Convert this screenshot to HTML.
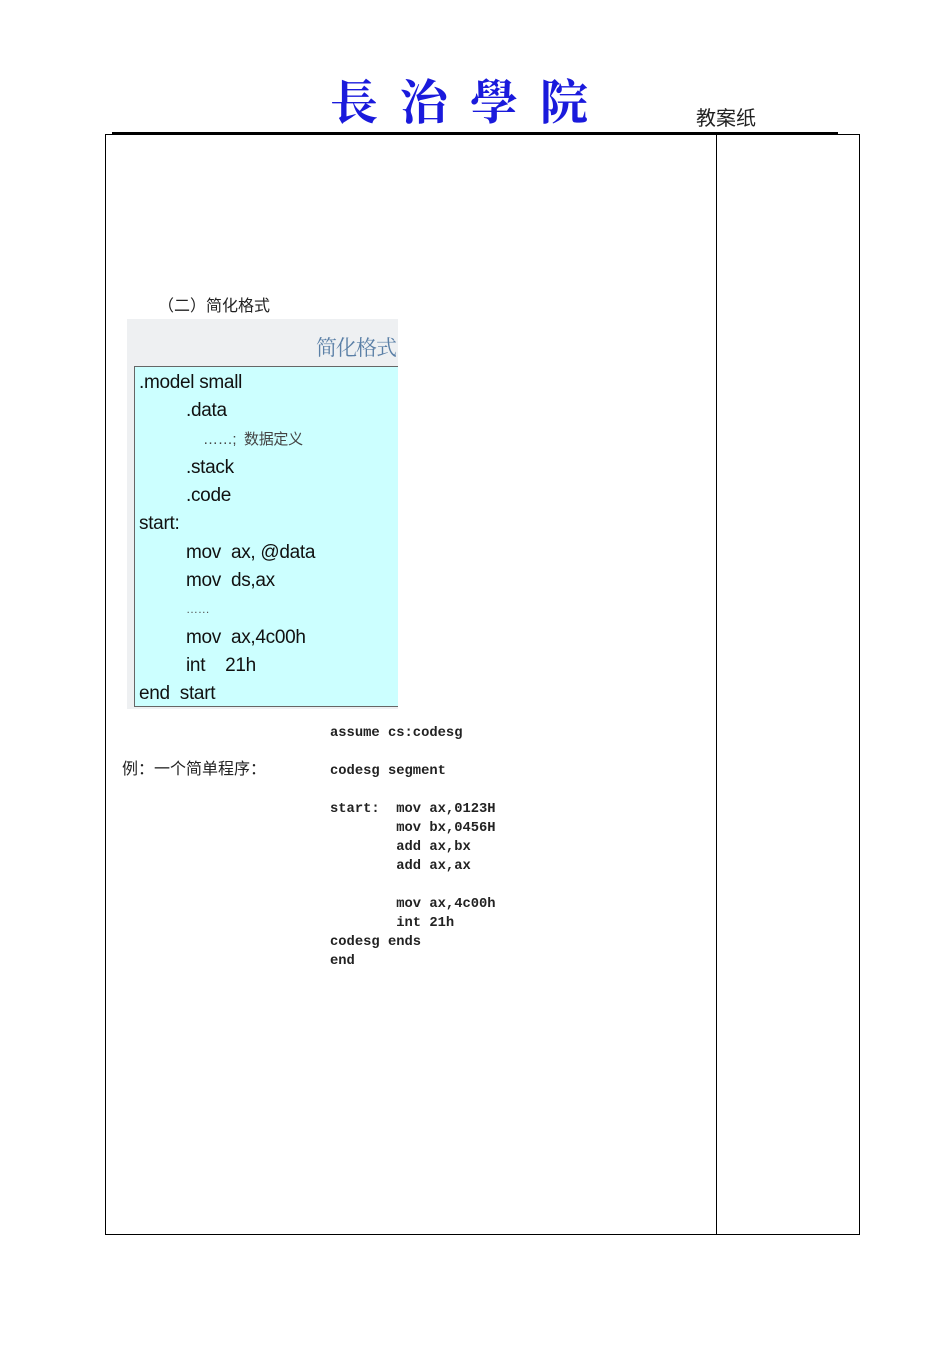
<!DOCTYPE html>
<html><head><meta charset="utf-8"><style>
body{margin:0;width:950px;height:1345px;background:#fff;position:relative;font-family:"Liberation Sans","Noto Sans CJK SC",sans-serif;overflow:hidden}
.a{position:absolute;white-space:pre}
.m{font-family:"Liberation Mono","DejaVu Sans Mono",monospace;font-size:13.8px;font-weight:bold;color:#222;line-height:19px}
.bx{white-space:normal}
.bx div{height:28.3px;white-space:pre}
.i{padding-left:47px}
</style></head><body>
<div class="a" style="left:330px;top:64px;font-size:48px;color:#1a1adc;font-weight:bold;font-family:'Noto Serif CJK SC',serif;letter-spacing:22px">長治學院</div>
<div class="a" style="left:696px;top:102px;font-size:20px;color:#222">教案纸</div>
<div class="a" style="left:112px;top:132px;width:726px;height:2px;background:#000"></div>
<div class="a" style="left:105px;top:134px;width:755px;height:1101px;border:1px solid #000;box-sizing:border-box"></div>
<div class="a" style="left:716px;top:134px;width:1px;height:1101px;background:#000"></div>
<div class="a" style="left:158px;top:292px;font-size:16px;color:#222">（二）简化格式</div>
<div class="a" style="left:127px;top:319px;width:271px;height:390px;background:#eef0f2"></div>
<div class="a" style="left:316px;top:332px;font-size:21px;letter-spacing:-1px;color:#5a7fa6;font-family:'Noto Serif CJK SC',serif">简化格式</div>
<div class="a" style="left:134px;top:366px;width:264px;height:341px;background:#ccffff;border:1px solid #666;border-right:none;box-sizing:border-box"></div>
<div class="a bx" style="left:139px;top:369px;font-size:19px;line-height:28.3px;color:#111;letter-spacing:-0.3px"><div>.model small</div><div class="i">.data</div><div style="padding-left:64px;font-size:15px;color:#444">……;  数据定义</div><div class="i">.stack</div><div class="i">.code</div><div>start:</div><div class="i">mov  ax, @data</div><div class="i">mov  ds,ax</div><div class="i" style="font-size:12px;color:#555">……</div><div class="i">mov  ax,4c00h</div><div class="i">int    21h</div><div>end  start</div></div>
<div class="a" style="left:122px;top:755px;font-size:16px;color:#222">例：一个简单程序：</div>
<div class="a m" style="left:330px;top:724px">assume cs:codesg

codesg segment

start:  mov ax,0123H
        mov bx,0456H
        add ax,bx
        add ax,ax

        mov ax,4c00h
        int 21h
codesg ends
end</div>
</body></html>
